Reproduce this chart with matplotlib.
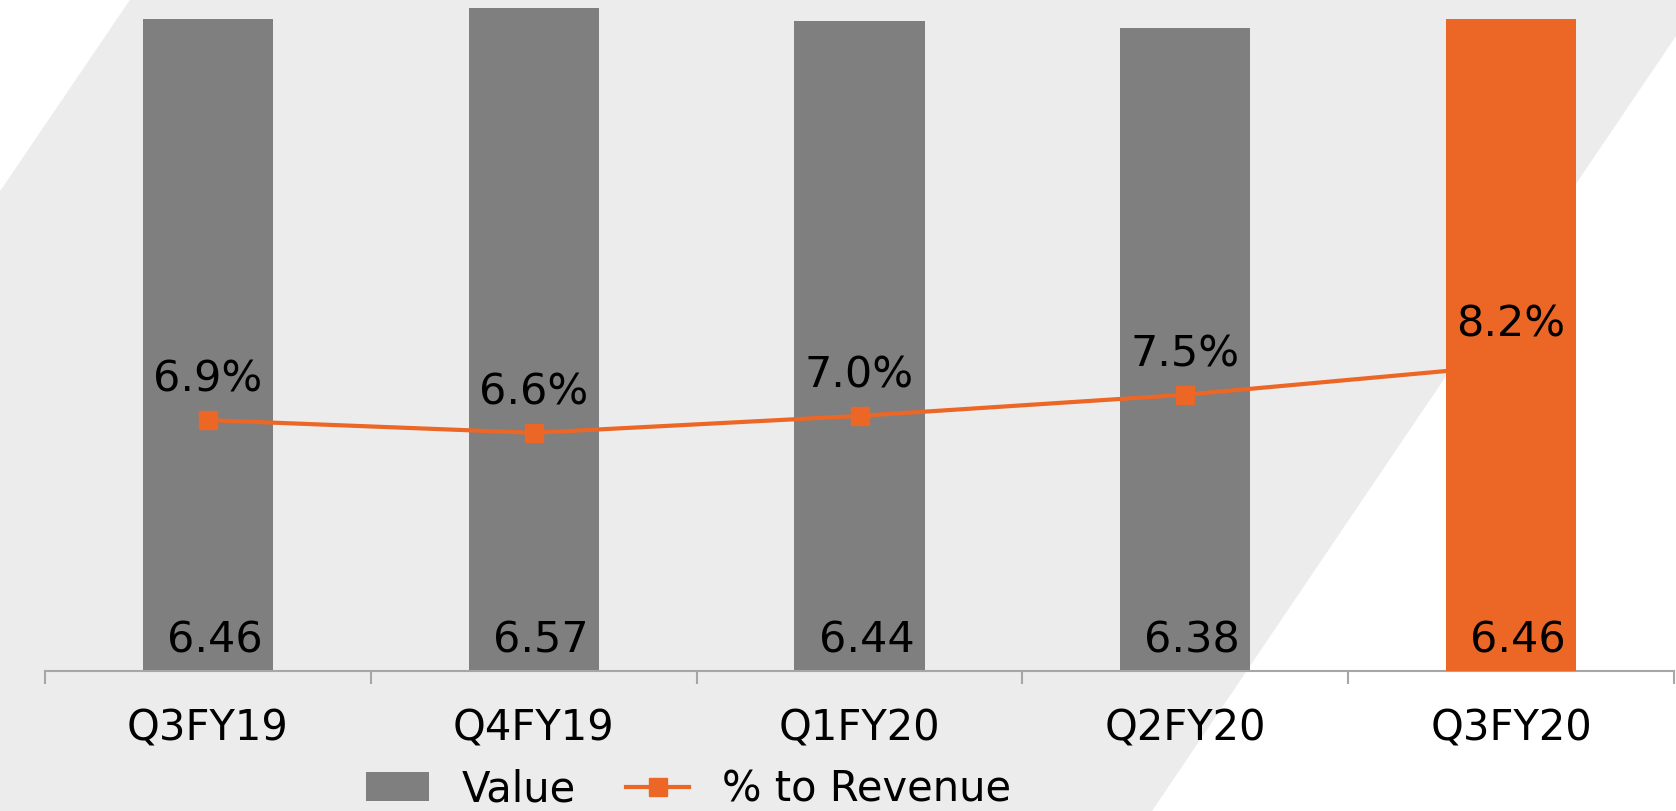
import matplotlib
matplotlib.use("Agg")
import matplotlib.pyplot as plt
from matplotlib.patches import Polygon, Patch
from matplotlib.lines import Line2D

quarters = ["Q3FY19", "Q4FY19", "Q1FY20", "Q2FY20", "Q3FY20"]
value = [6.46, 6.57, 6.44, 6.38, 6.46]
pct_rev = [6.9, 6.6, 7.0, 7.5, 8.2]

grey = "#7F7F7F"
orange = "#EC6625"
bg = "#ECECEC"

plt.rcParams["font.family"] = ["DejaVu Sans"]

fig = plt.figure(figsize=(16.76, 8.11), dpi=100)
fig.patch.set_facecolor(bg)

# white corner shapes of the slide background
fig.add_artist(Polygon([(0, 1), (129/1676, 1), (0, 1-190/811)], closed=True,
                       transform=fig.transFigure, color="white", zorder=-10))
fig.add_artist(Polygon([(1, 1-36/811), (1, 0), (1152/1676, 0)], closed=True,
                       transform=fig.transFigure, color="white", zorder=-10))

pos = [45/1676, 1-671/811, (1674-45)/1676, 671/811]
ax1 = fig.add_axes(pos)
ax1.patch.set_alpha(0)
x = list(range(len(quarters)))

# grey bars (all but the latest quarter)
ax1.bar(x[:-1], value[:-1], width=0.4, color=grey, zorder=2)
ax1.set_xlim(-0.5, 4.5)
ax1.set_ylim(0, 6.653)

# line on secondary axis
ax2 = ax1.twinx()
ax2.plot(x, pct_rev, color=orange, lw=3, marker="s", ms=13, zorder=3)
ax2.set_ylim(0.97, 16.83)
ax2.axis("off")

# latest quarter bar on top of the line
ax3 = fig.add_axes(pos, sharex=ax1, sharey=ax1)
ax3.patch.set_alpha(0)
ax3.bar(x[-1:], value[-1:], width=0.4, color=orange)
ax3.axis("off")

for i, v in enumerate(value):
    ax3.annotate(f"{v:.2f}", xy=(i, 0), xytext=(5, 22), textcoords="offset points",
                 ha="center", va="center", fontsize=31, color="black")
for i, p in enumerate(pct_rev):
    ax3.annotate(f"{p:.1f}%", xy=(i, p), xycoords=ax2.transData, xytext=(0, 29),
                 textcoords="offset points", ha="center", va="center",
                 fontsize=31, color="black")

for s in ["left", "right", "top"]:
    ax1.spines[s].set_visible(False)
ax1.spines["bottom"].set_color("#A6A6A6")
ax1.spines["bottom"].set_linewidth(1.5)
ax1.set_yticks([])
ax1.set_xticks([-0.5, 0.5, 1.5, 2.5, 3.5, 4.5])
ax1.set_xticklabels([])
ax1.tick_params(axis="x", which="major", length=9.5, width=1.5, color="#A6A6A6")
ax1.set_xticks(x, minor=True)
ax1.set_xticklabels(quarters, minor=True, fontsize=30)
ax1.tick_params(axis="x", which="minor", length=0, pad=26)

handles = [Patch(facecolor=grey), Line2D([], [], color=orange, lw=3, marker="s", ms=13)]
fig.legend(handles, ["Value", "% to Revenue"], loc="center", bbox_to_anchor=(0.411, 0.027),
           ncol=2, frameon=False, fontsize=30, handlelength=1.5, columnspacing=1.2,
           handletextpad=0.8)

fig.savefig("out.png", dpi=100, facecolor=bg)
